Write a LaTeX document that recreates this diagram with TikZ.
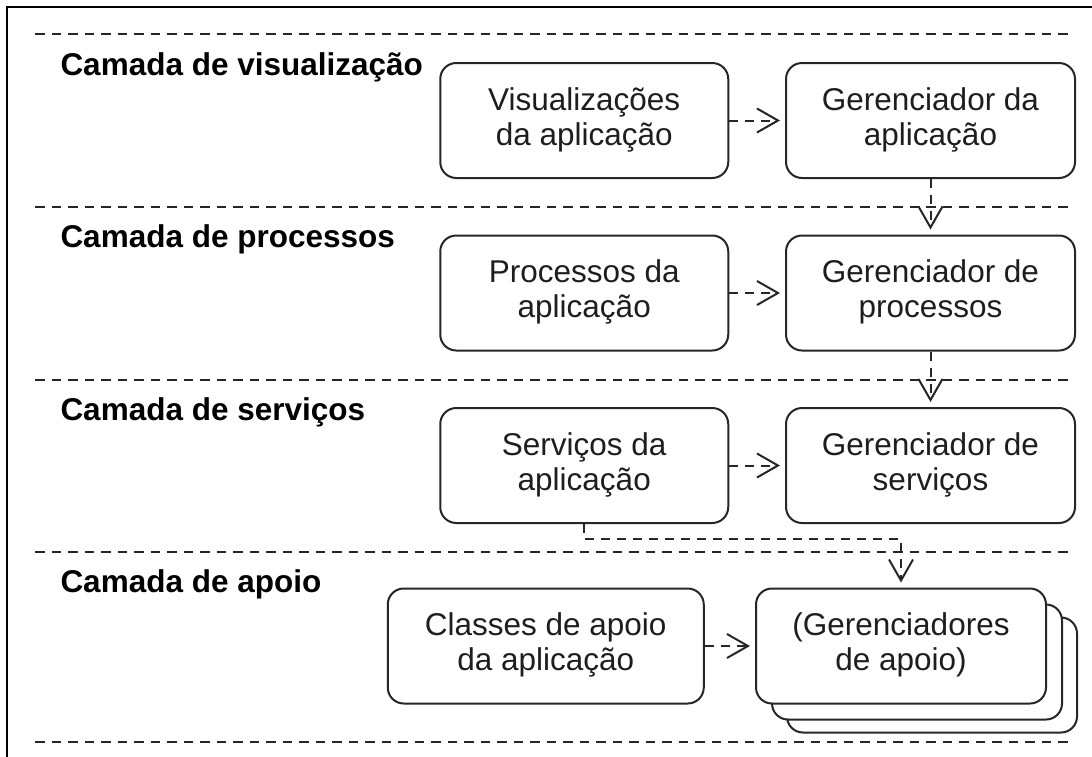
\documentclass[tikz,border=0pt]{standalone}
\usepackage{fontspec}
\setmainfont{Liberation Sans}
\usetikzlibrary{arrows.meta}
\definecolor{ink}{HTML}{262626}
\definecolor{txt}{HTML}{1E1E1E}
\begin{document}
\begin{tikzpicture}[x=1pt,y=-1pt,
  layer/.style={draw=ink, line width=2pt, dash pattern=on 9.5pt off 7pt},
  lname/.style={anchor=base west, inner sep=0pt, text=black,
    font=\fontsize{31.5}{35}\selectfont\bfseries},
  comp/.style={draw=ink, line width=2pt, fill=white, rounded corners=16pt,
    minimum width=288pt, minimum height=115pt, inner sep=0pt, align=center,
    text height=56pt, text depth=7pt, text=txt,
    font=\fontsize{31.5}{35}\selectfont},
  dep/.style={draw=ink, line width=2pt, dash pattern=on 9pt off 7pt,
    -{Straight Barb[length=21pt,width=24pt]}, shorten >=5pt},
]
% page area
\fill[white] (0,0) rectangle (1092,756);
\useasboundingbox (0,0) rectangle (1092,756);

% outer frame (left and top edges)
\draw[line width=2.2pt, black] (7.3,770) -- (7.3,6.7) -- (1100,6.7);

% layer separators
\draw[layer] (35,34) -- (1070,34);
\draw[layer] (35,207) -- (1070,207);
\draw[layer] (35,379.5) -- (1070,379.5);
\draw[layer] (35,552) -- (1070,552);
\draw[layer] (35,741.5) -- (1070,741.5);

% layer names
\node[lname] (lvis) at (60.3,75) {Camada de visualização};
\node[lname] (lproc) at (60.3,247.5) {Camada de processos};
\node[lname] (lserv) at (60.3,420) {Camada de serviços};
\node[lname] (lapo) at (60.3,592.5) {Camada de apoio};

% components
\node[comp] (va) at (584.25,120.5) {Visualizações\\da aplicação};
\node[comp, minimum width=289pt] (ga) at (930.5,120.5) {Gerenciador da\\aplicação};
\node[comp] (pa) at (584.25,293) {Processos da\\aplicação};
\node[comp, minimum width=289pt] (gp) at (930.5,293) {Gerenciador de\\processos};
\node[comp] (sa) at (584.25,465.5) {Serviços da\\aplicação};
\node[comp, minimum width=289pt] (gs) at (930.5,465.5) {Gerenciador de\\serviços};
\node[comp, minimum width=316pt] (ca) at (545.75,646) {Classes de apoio\\da aplicação};
% stacked support managers
\node[comp, minimum width=290pt] (gb3) at (932,675) {};
\node[comp, minimum width=290pt] (gb2) at (917,662) {};
\node[comp, minimum width=290pt] (gb) at (901,646) {(Gerenciadores\\de apoio)};

% dependencies
\draw[dep] (va) -- (ga);
\draw[dep] (pa) -- (gp);
\draw[dep] (sa) -- (gs);
\draw[dep] (ca) -- (gb);
\draw[dep] (ga) -- (gp);
\draw[dep] (gp) -- (gs);
\draw[dep] (sa.south) -- ++(0,15) -| (gb.north);
\end{tikzpicture}
\end{document}
